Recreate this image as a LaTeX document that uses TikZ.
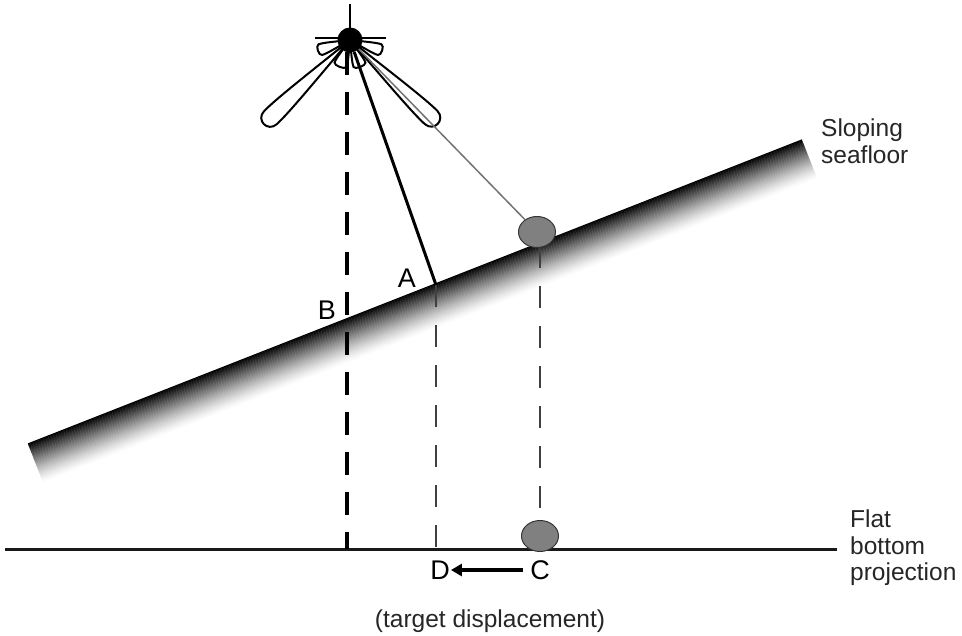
\documentclass[tikz,border=0pt]{standalone}
\usepackage{fontspec}
\setmainfont{Liberation Sans}
\usetikzlibrary{arrows.meta,shapes.geometric}
\begin{document}
\begin{tikzpicture}[x=1pt,y=-1pt,
  txt/.style={font=\fontsize{24.5}{26.5}\selectfont, text=black!85, inner sep=0pt, align=left},
  letter/.style={font=\fontsize{27}{30}\selectfont, text=black, inner sep=0pt},
  lobe/.style={draw=black, line width=2pt, fill=white},
  target/.style={ellipse, draw=black!80, line width=1pt, fill=black!50,
                 minimum width=37pt, minimum height=31pt, inner sep=0pt},
  thindash/.style={draw=black!75, line width=2.8pt, dash pattern=on 22pt off 18pt},
  petal/.pic={\path[lobe] (0,0) .. controls (0.35,0.03) and (0.78,0.075) .. (0.92,0.07)
      .. controls (1.02,0.065) and (1.02,-0.065) .. (0.92,-0.07)
      .. controls (0.78,-0.075) and (0.35,-0.03) .. (0,0) -- cycle;}]
\useasboundingbox (0,0) rectangle (962,636);
\fill[white] (0,0) rectangle (962,636);

% sloping seafloor: strips parallel to the top edge, black fading to white
\foreach \k in {0,1,...,42}{
  \pgfmathsetmacro{\p}{100*(1-\k/42)^1.35}
  \draw[line width=1.3pt, color=black!\p]
    ({28+0.3656*\k},{444+0.9308*\k}) -- ({802+0.3656*\k},{140+0.9308*\k});
}

% key points
\coordinate (T) at (350,40);
\coordinate (A) at (436,285);
\coordinate (B) at (347,319);
\coordinate (Btop) at (347,52);
\coordinate (Bbot) at (347,549);
\coordinate (Abot) at (436,549);
\coordinate (Fl) at (5,549);
\coordinate (Fr) at (837,549);

% flat bottom projection line
\draw[line width=3pt, black!90] (Fl) -- (Fr);

% targets
\node[target] (Pt) at (537,232) {};
\node[target] (Pc) at (540,536) {};

% beam pattern of the transducer
\pic[rotate=224.3, xscale=121, yscale=130] at (T) {petal};
\pic[rotate=-43.7, xscale=122, yscale=130] at (T) {petal};
\pic[rotate=198, xscale=34, yscale=80] at (T) {petal};
\pic[rotate=-18, xscale=34, yscale=80] at (T) {petal};
\pic[rotate=249, xscale=29, yscale=90] at (T) {petal};
\pic[rotate=-69, xscale=29, yscale=90] at (T) {petal};

% transducer cross and body
\draw[line width=1.8pt] (350,4) -- (T);
\draw[line width=1.8pt] (315,38) -- (386,38);
\node[circle, fill=black, minimum size=25pt, inner sep=0pt] (Tx) at (T) {};

% slant ranges
\draw[black!55, line width=1.5pt] (Tx) -- (Pt);
\draw[black, line width=3pt] (Tx) -- (A);

% vertical projections
\draw[black, line width=4pt, dash pattern=on 23pt off 17pt] (Btop) -- (Bbot);
\draw[thindash] (A) -- (Abot);
\draw[thindash, dash phase=2pt] (Pc.north |- Pt.south) -- (Pc.north);

% labels
\node[letter] (Bl) at (327,310) {B};
\node[letter] (Al) at (407,278) {A};
\node[letter] (Dl) at (440,570) {D};
\node[letter] (Cl) at (540,570) {C};
\draw[line width=3.2pt, -{Triangle[length=11pt,width=12pt]}, shorten <=7pt, shorten >=1pt]
  (Cl.west) -- (Dl.east);

\node[txt, anchor=west] (slope) at (821,141) {Sloping\\seafloor};
\node[txt, anchor=west] (flat) at (850,548) {Flat\\bottom\\projection};
\node[txt] (disp) at (490,621) {(target displacement)};
\end{tikzpicture}
\end{document}
